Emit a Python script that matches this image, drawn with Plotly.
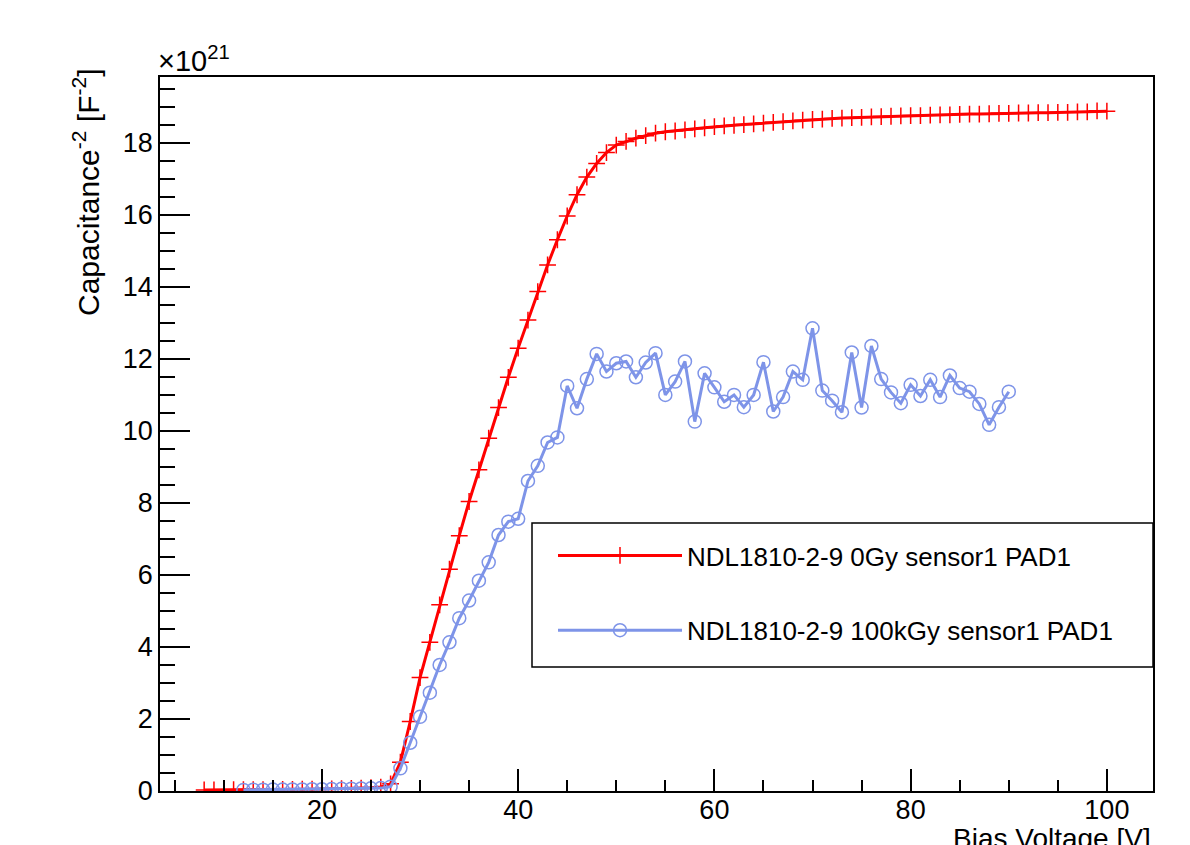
import plotly.graph_objects as go

# ---- data ----
red_x = list(range(8, 101))
red_y = [0.03, 0.03, 0.03, 0.035, 0.035, 0.04, 0.04, 0.04, 0.045, 0.045,   # 8-17
         0.05, 0.05, 0.055, 0.06, 0.065, 0.07, 0.08, 0.09, 0.11, 0.2,        # 18-27
         0.80, 1.93, 3.15, 4.13, 5.17, 6.16, 7.09, 8.04, 8.92, 9.80,         # 28-37
         10.65, 11.49, 12.30, 13.08, 13.87, 14.61, 15.31, 15.97, 16.56, 17.05,  # 38-47
         17.43, 17.73, 17.94, 18.04, 18.13, 18.20, 18.27, 18.31, 18.33, 18.36,  # 48-57
         18.39, 18.42, 18.45, 18.47, 18.49, 18.51, 18.53, 18.55, 18.57, 18.59,  # 58-67
         18.61, 18.63, 18.65, 18.66, 18.68, 18.69, 18.70, 18.71, 18.72, 18.73,  # 68-77
         18.74, 18.75, 18.76, 18.76, 18.77, 18.78, 18.78, 18.79, 18.80, 18.80,  # 78-87
         18.81, 18.82, 18.82, 18.83, 18.83, 18.84, 18.84, 18.85, 18.85, 18.86,  # 88-97
         18.86, 18.89, 18.88]                                                  # 98-100

blue_x = list(range(12, 91))
blue_y = [0.03, 0.035, 0.035, 0.04, 0.04, 0.045, 0.045, 0.05, 0.05, 0.055,  # 12-21
          0.06, 0.065, 0.07, 0.075, 0.08, 0.12,                              # 22-27
          0.63, 1.34, 2.06, 2.73, 3.50, 4.13, 4.80, 5.29, 5.84, 6.35,        # 28-37
          7.11, 7.48, 7.56, 8.61, 9.03, 9.68, 9.82, 11.25, 10.63, 11.44,     # 38-47
          12.14, 11.65, 11.88, 11.93, 11.49, 11.90, 12.16, 11.00, 11.37, 11.93,  # 48-57
          10.26, 11.60, 11.21, 10.81, 11.00, 10.66, 11.00, 11.91, 10.54, 10.94,  # 58-67
          11.65, 11.42, 12.85, 11.12, 10.84, 10.52, 12.18, 10.65, 12.36, 11.44,  # 68-77
          11.07, 10.77, 11.28, 10.97, 11.42, 10.94, 11.54, 11.19, 11.09, 10.75,  # 78-87
          10.17, 10.66, 11.09]                                                   # 88-90

red_name = "NDL1810-2-9 0Gy sensor1 PAD1"
blue_name = "NDL1810-2-9 100kGy sensor1 PAD1"
x_title = "Bias Voltage [V]"
y_title = "Capacitance<sup>-2</sup> [F<sup>-2</sup>]"
exponent = "×10<sup>21</sup>"

RED = "#ff0000"
BLUE = "rgb(126,148,232)"
FONT = "Liberation Sans, Arial, Helvetica, sans-serif"

fig = go.Figure()
fig.add_trace(go.Scatter(
    x=red_x, y=red_y, mode="lines+markers", name=red_name, legendgroup="a",
    line=dict(color=RED, width=3),
    marker=dict(symbol="cross-thin", size=12, color=RED, line=dict(color=RED, width=1.5)),
))
fig.add_trace(go.Scatter(
    x=blue_x, y=blue_y, mode="lines+markers", name=blue_name, legendgroup="b",
    line=dict(color=BLUE, width=3),
    marker=dict(symbol="circle-open", size=13, color=BLUE, line=dict(color=BLUE, width=1.5)),
))

L, R, T, B = 160, 1190 - 1153, 77, 845 - 791
W, H = 1190 - L - R, 845 - T - B
fig.update_layout(
    width=1190, height=845,
    margin=dict(l=L, r=R, t=T, b=B),
    paper_bgcolor="white", plot_bgcolor="white",
    font=dict(family=FONT, size=26, color="black"),
    showlegend=True,
    legend=dict(
        x=(553 - L) / W, y=(791 - 532) / H, xanchor="left", yanchor="top",
        bgcolor="rgba(0,0,0,0)", borderwidth=0,
        font=dict(size=26), itemwidth=124, tracegroupgap=38,
        traceorder="grouped",
    ),
)
fig.update_xaxes(
    range=[3.5, 104.7], tick0=0, dtick=20, ticks="inside", ticklen=22, tickwidth=1.5,
    tickcolor="black", showline=True, linecolor="black", linewidth=1.5, mirror=True,
    showgrid=False, zeroline=False, tickfont=dict(size=27), ticklabelstandoff=-6,
    minor=dict(dtick=5, ticks="inside", ticklen=11, tickwidth=1.5, tickcolor="black", showgrid=False),
)
fig.update_yaxes(
    range=[0, 19.83], tick0=0, dtick=2, ticks="inside", ticklen=30, tickwidth=1.5,
    tickcolor="black", showline=True, linecolor="black", linewidth=1.5, mirror=True,
    showgrid=False, zeroline=False, tickfont=dict(size=27),
    minor=dict(dtick=0.5, ticks="inside", ticklen=15, tickwidth=1.5, tickcolor="black", showgrid=False),
)

# legend frame
fig.add_shape(type="rect", xref="paper", yref="paper",
              x0=(532 - L) / W, x1=1.0, y0=(791 - 667) / H, y1=(791 - 523) / H,
              line=dict(color="black", width=1.5), fillcolor="rgba(0,0,0,0)", layer="above")

fig.add_annotation(text=y_title, xref="paper", yref="paper", x=(86 - L) / W, y=(791 - 66) / H,
                   xanchor="center", yanchor="top", textangle=-90, showarrow=False,
                   font=dict(size=30))
fig.add_annotation(text=x_title, xref="paper", yref="paper", x=1.0, y=-(821 - 791) / H,
                   xanchor="right", yanchor="top", showarrow=False, font=dict(size=28))
fig.add_annotation(text=exponent, xref="paper", yref="paper", x=0.0, y=1.0,
                   xanchor="left", yanchor="bottom", showarrow=False, font=dict(size=29),
                   xshift=-4, yshift=-2)

fig.write_html("out.html", config={"displayModeBar": False},
               post_script="document.body.style.margin='0';document.body.style.overflow='hidden';")
